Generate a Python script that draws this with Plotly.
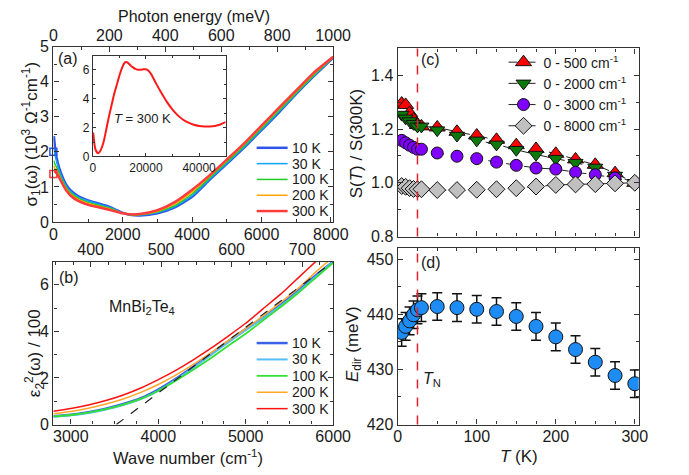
import plotly.graph_objects as go

W, H = 689, 475
def px(x):
    return x / W
def py(y):
    return 1 - y / H

FONT = "'Liberation Sans', Arial, Helvetica, sans-serif"
TXT = '#1a1a1a'
AX = '#333333'

# ---------------- data ----------------
temps = ['10 K', '30 K', '100 K', '200 K', '300 K']

# panel (a): optical conductivity sigma1 (10^3 Ohm^-1 cm^-1)
wn_a = [15, 30, 60, 100, 150, 200, 300, 400, 500, 700, 1000, 1300, 1600, 1800,
        2000, 2200, 2500, 3000, 3500, 4000, 4500, 5000, 5500, 6000, 6500, 7000, 7500, 8065]
sig_10 = [2.45, 2.3, 2.0, 1.8, 1.6, 1.45, 1.2, 1.02, 0.9, 0.75, 0.62, 0.53, 0.44, 0.35,
          0.26, 0.21, 0.19, 0.25, 0.42, 0.72, 1.2, 1.66, 2.12, 2.62, 3.12, 3.65, 4.15, 4.68]
sig_30 = [2.1, 2.0, 1.85, 1.7, 1.52, 1.38, 1.15, 0.98, 0.87, 0.72, 0.6, 0.51, 0.42, 0.34,
          0.25, 0.21, 0.2, 0.27, 0.44, 0.75, 1.22, 1.68, 2.14, 2.64, 3.14, 3.66, 4.16, 4.69]
sig_100 = [1.75, 1.7, 1.62, 1.55, 1.42, 1.3, 1.1, 0.94, 0.83, 0.69, 0.56, 0.48, 0.4, 0.33,
           0.25, 0.21, 0.21, 0.29, 0.47, 0.8, 1.26, 1.71, 2.17, 2.67, 3.17, 3.68, 4.18, 4.69]
sig_200 = [1.6, 1.55, 1.5, 1.45, 1.35, 1.25, 1.05, 0.9, 0.79, 0.65, 0.53, 0.45, 0.38, 0.31,
           0.25, 0.22, 0.22, 0.31, 0.52, 0.86, 1.3, 1.76, 2.22, 2.72, 3.22, 3.72, 4.22, 4.7]
sig_300 = [1.45, 1.45, 1.42, 1.38, 1.3, 1.2, 1.02, 0.86, 0.75, 0.61, 0.49, 0.42, 0.35, 0.3,
           0.25, 0.22, 0.23, 0.34, 0.57, 0.92, 1.33, 1.78, 2.24, 2.75, 3.25, 3.75, 4.25, 4.71]
sig_a = [sig_10, sig_30, sig_100, sig_200, sig_300]
dc_wn = [0, 0]
dc_sig = [2.0, 1.37]

# inset: sigma1 at 300 K over wide range
ins_wn = [150, 1000, 2000, 3000, 4000, 5000, 6000, 7000, 8000, 9000, 10000, 11000, 12000,
          12500, 13000, 14000, 15000, 16000, 17000, 18000, 19000, 20000, 21000, 22000,
          23000, 24000, 26000, 28000, 30000, 32000, 34000, 36000, 38000, 40000, 42000,
          44000, 46000, 48000, 50000]
ins_sig = [1.65, 0.5, 0.22, 0.45, 0.95, 1.8, 2.7, 3.5, 4.3, 4.95, 5.6, 6.15, 6.5,
           6.55, 6.52, 6.35, 6.2, 6.08, 6.02, 6.02, 6.05, 6.05, 5.95, 5.7,
           5.35, 5.0, 4.35, 3.75, 3.25, 2.85, 2.55, 2.35, 2.2, 2.12, 2.08,
           2.08, 2.12, 2.22, 2.38]

# panel (b): eps2^2 / 100
wn_b = [2800, 3000, 3200, 3400, 3600, 3800, 4000, 4200, 4400, 4600, 4800, 5000, 5200,
        5400, 5600, 5800, 6000]
eps_10 = [0.36, 0.42, 0.53, 0.68, 0.88, 1.13, 1.5, 1.96, 2.48, 3.03, 3.58, 4.1, 4.6,
          5.15, 5.75, 6.4, 7.0]
eps_30 = [0.34, 0.40, 0.50, 0.65, 0.84, 1.09, 1.45, 1.92, 2.43, 2.98, 3.53, 4.05, 4.58,
          5.1, 5.7, 6.35, 7.0]
eps_100 = [0.35, 0.41, 0.51, 0.66, 0.86, 1.1, 1.45, 1.88, 2.35, 2.85, 3.38, 3.9, 4.48,
           5.05, 5.65, 6.3, 6.95]
eps_200 = [0.46, 0.56, 0.70, 0.88, 1.1, 1.38, 1.72, 2.12, 2.58, 3.08, 3.6, 4.12, 4.67,
           5.25, 5.85, 6.55, 7.2]
eps_300 = [0.57, 0.69, 0.84, 1.03, 1.27, 1.57, 1.93, 2.33, 2.78, 3.27, 3.8, 4.35, 4.98,
           5.6, 6.3, 7.0, 7.7]
eps_b = [eps_10, eps_30, eps_100, eps_200, eps_300]
fit_wn = [3520, 6000]
fit_eps = [0.0, 7.0]

# panel (c): normalized spectral weight
T_pts = [5, 10, 15, 20, 25, 30, 50, 75, 100, 125, 150, 175, 200, 225, 250, 275, 300]
S_500 = [1.295, 1.29, 1.26, 1.236, 1.215, 1.21, 1.206, 1.19, 1.176, 1.16, 1.14, 1.126,
         1.108, 1.087, 1.067, 1.036, 1.0]
S_2000 = [1.254, 1.24, 1.23, 1.22, 1.21, 1.21, 1.196, 1.176, 1.158, 1.143, 1.123, 1.105,
          1.09, 1.075, 1.057, 1.027, 1.0]
S_3000 = [1.158, 1.149, 1.14, 1.132, 1.125, 1.125, 1.111, 1.099, 1.09, 1.077, 1.065,
          1.055, 1.051, 1.039, 1.03, 1.018, 1.0]
S_8000 = [0.988, 0.985, 0.98, 0.977, 0.976, 0.976, 0.973, 0.973, 0.974, 0.976, 0.98,
          0.986, 0.992, 0.994, 0.995, 0.998, 1.0]
S_names = ['0 - 500 cm<sup>-1</sup>', '0 - 2000 cm<sup>-1</sup>',
           '0 - 3000 cm<sup>-1</sup>', '0 - 8000 cm<sup>-1</sup>']

# panel (d): direct gap
E_dir = [436.7, 437.8, 438.8, 439.9, 440.8, 441.2, 441.4, 441.2, 440.9, 440.5, 439.6,
         437.8, 435.9, 433.6, 431.3, 428.9, 427.4]
E_err = [2.5] * len(E_dir)
T_N = 25
meV_per_cm = 1 / 8.0655

# ---------------- styles ----------------
cols_a = ['#2F55E8', '#12A5F5', '#22CC22', '#FFA500', '#FF3B3B']
lw_a = [2.5, 1.5, 1.5, 1.5, 2.5]
cols_b = ['#3A62E8', '#55BDF2', '#33E033', '#FFA62B', '#FF1010']
lw_b = [2.5, 2.0, 1.8, 1.5, 1.5]

fig = go.Figure()

for lab, ys, c, w in zip(temps, sig_a, cols_a, lw_a):
    fig.add_trace(go.Scatter(x=wn_a, y=ys, mode='lines', name=lab, showlegend=False,
                             line=dict(color=c, width=w, shape='spline', smoothing=0.5),
                             xaxis='x', yaxis='y'))
fig.add_trace(go.Scatter(x=dc_wn, y=dc_sig, mode='markers', showlegend=False, cliponaxis=False,
                         marker=dict(symbol='square-open', size=7, color=[cols_a[0], cols_a[4]],
                                     line=dict(width=1.5)),
                         xaxis='x', yaxis='y'))
fig.add_trace(go.Scatter(x=[], y=[], xaxis='x2', yaxis='y', showlegend=False))

fig.add_trace(go.Scatter(x=ins_wn, y=ins_sig, mode='lines', showlegend=False,
                         line=dict(color='#FF1A1A', width=2, shape='spline', smoothing=0.6),
                         xaxis='x3', yaxis='y3'))

for lab, ys, c, w in zip(temps, eps_b, cols_b, lw_b):
    fig.add_trace(go.Scatter(x=wn_b, y=ys, mode='lines', name=lab, showlegend=False,
                             line=dict(color=c, width=w, shape='spline', smoothing=0.5),
                             xaxis='x4', yaxis='y4'))
fig.add_trace(go.Scatter(x=fit_wn, y=fit_eps, mode='lines', showlegend=False,
                         line=dict(color='#222222', width=1.2, dash='dash'),
                         xaxis='x4', yaxis='y4'))
fig.add_trace(go.Scatter(x=[], y=[], xaxis='x5', yaxis='y4', showlegend=False))

S_sets = [S_500, S_2000, S_3000, S_8000]
S_sym = ['triangle-up', 'triangle-down', 'circle', 'diamond']
S_col = ['#FF0000', '#0B7A0B', '#7F00FF', '#C0C0C0']
S_size = [14, 13, 12, 13]
for ys, nm, sym, c, s in zip(S_sets, S_names, S_sym, S_col, S_size):
    fig.add_trace(go.Scatter(x=T_pts, y=ys, mode='lines+markers', name=nm,
                             line=dict(color='#222222', width=1, dash='dash'),
                             marker=dict(symbol=sym, size=s, color=c,
                                         line=dict(color='#111111', width=1)),
                             xaxis='x6', yaxis='y6'))

fig.add_trace(go.Scatter(x=T_pts, y=E_dir, mode='markers', showlegend=False,
                         marker=dict(symbol='circle', size=14, color='#1E8CF5',
                                     line=dict(color='#111111', width=1)),
                         error_y=dict(type='data', array=E_err, visible=True,
                                      color='#111111', thickness=1.5, width=5),
                         xaxis='x7', yaxis='y7'))

# ---------------- axes ----------------
def axis(size=16, ticklen=5, mdtick=None, lw=1.3, **kw):
    d = dict(showline=True, linecolor=AX, linewidth=lw, ticks='inside', ticklen=ticklen,
             tickwidth=1.2, tickcolor=AX, showgrid=False, zeroline=False,
             tickfont=dict(size=size, color=TXT, family=FONT))
    if mdtick is not None:
        d['minor'] = dict(dtick=mdtick, ticks='inside', ticklen=max(2, ticklen - 2),
                          tickwidth=1, tickcolor=AX, showgrid=False)
    d.update(kw)
    return d

dom_left = [px(51), px(340)]
dom_right = [px(406.7), px(655.7)]

fig.update_layout(
    xaxis=axis(domain=dom_left, anchor='y', range=[0, 8065.5], dtick=2000, mdtick=1000,
               mirror=False, ticklabelstandoff=-2),
    yaxis=axis(domain=[py(222), py(40)], anchor='x', range=[0, 5], dtick=1, mdtick=0.5, mirror='ticks'),
    xaxis2=axis(overlaying='x', side='top', anchor='y', range=[0, 1000],
                dtick=200, mdtick=100, ticklabelstandoff=-2),
    xaxis3=axis(size=12, ticklen=3, lw=1, domain=[px(91.7), px(229)], anchor='y3',
                range=[0, 50000], dtick=20000, mdtick=10000, mirror='ticks', tickformat='d'),
    yaxis3=axis(size=12, ticklen=3, lw=1, domain=[py(154), py(49.3)], anchor='x3',
                range=[0, 7], dtick=2, mdtick=1, mirror='ticks'),
    xaxis4=axis(domain=dom_left, anchor='y4', range=[2800, 6000], dtick=1000, mdtick=250,
                mirror=False, ticklabelstandoff=-3),
    yaxis4=axis(domain=[py(432), py(263)], anchor='x4', range=[0, 7], dtick=2, mdtick=1, mirror='ticks'),
    xaxis5=axis(overlaying='x4', side='top', anchor='y4',
                range=[2800 * meV_per_cm, 6000 * meV_per_cm], dtick=100, mdtick=25,
                ticklabelstandoff=-1),
    xaxis6=axis(domain=dom_right, anchor='y6', range=[0, 305], dtick=100, mdtick=25,
                mirror='ticks', showticklabels=False),
    yaxis6=axis(domain=[py(237), py(42)], anchor='x6', range=[0.8, 1.5], dtick=0.2, mdtick=0.1,
                mirror='ticks', tickformat='.1f'),
    xaxis7=axis(domain=dom_right, anchor='y7', range=[0, 305], dtick=100, mdtick=25,
                mirror='ticks', ticklabelstandoff=-3),
    yaxis7=axis(domain=[py(432), py(249)], anchor='x7', range=[420, 452], dtick=10, mdtick=5,
                mirror='ticks'),
)

# ---------------- shapes & annotations ----------------
shapes = []
for xr, yr in [('x6', 'y6 domain'), ('x7', 'y7 domain')]:
    shapes.append(dict(type='line', xref=xr, yref=yr, x0=T_N, x1=T_N, y0=0, y1=1,
                       line=dict(color='#E0202A', width=1.5, dash='dash'), layer='above'))

annos = []
def text(x, y, t, size=17, angle=0, xanchor='center'):
    annos.append(dict(x=px(x), y=py(y), xref='paper', yref='paper', text=t, showarrow=False,
                      textangle=angle, xanchor=xanchor, yanchor='middle', borderpad=0,
                      font=dict(size=size, color=TXT, family=FONT)))

# manual legends for (a) and (b)
leg_a = dict(x0=261, x1=293, y0=145, step=16.4)
leg_b = dict(x0=261, x1=293, y0=347.5, step=17.0)
for leg, cols, lws in [(leg_a, cols_a, lw_a), (leg_b, cols_b, lw_b)]:
    for i, (lab, c, w) in enumerate(zip(temps, cols, lws)):
        yy = leg['y0'] + i * leg['step']
        shapes.append(dict(type='line', xref='paper', yref='paper', x0=px(leg['x0']),
                           x1=px(leg['x1']), y0=py(yy), y1=py(yy),
                           line=dict(color=c, width=w)))
        text(leg['x1'] + 3, yy, lab, size=14, xanchor='left')

text(196, 9, 'Photon energy (meV)', size=16)
text(28, 131, 'σ<sub>1</sub>(ω) (10<sup>3</sup> Ω<sup>-1</sup>cm<sup>-1</sup>)', angle=-90)
text(31, 358, 'ε<sub>2</sub><sup>2</sup>(ω) / 100', angle=-90)
text(190, 465.5, 'Wave number (cm<sup>-1</sup>)', size=16.5)
text(365, 140, 'S(<i>T</i>) / S(300K)', angle=-90)
text(361, 348, '<i>E</i><sub>dir</sub> (meV)', angle=-90)
text(532, 465, '<i>T</i> (K)')
text(66, 52, '(a)', size=16)
text(67, 280, '(b)', size=16)
text(441, 53, '(c)', size=16)
text(441, 264, '(d)', size=16)
text(442, 385, '<i>T</i><sub>N</sub>', size=16)
text(143, 311, 'MnBi<sub>2</sub>Te<sub>4</sub>', size=16)
text(143, 115, '<i>T</i> = 300 K', size=13)

fig.update_layout(
    width=W, height=H, margin=dict(l=0, r=0, t=0, b=0),
    paper_bgcolor='white', plot_bgcolor='white',
    font=dict(family=FONT, color=TXT),
    shapes=shapes, annotations=annos,
    showlegend=True,
    legend=dict(x=px(516), y=py(40), xanchor='left', yanchor='top',
                bgcolor='rgba(0,0,0,0)', font=dict(size=14, color=TXT, family=FONT),
                tracegroupgap=0),
)

fig.write_html('out.html')
